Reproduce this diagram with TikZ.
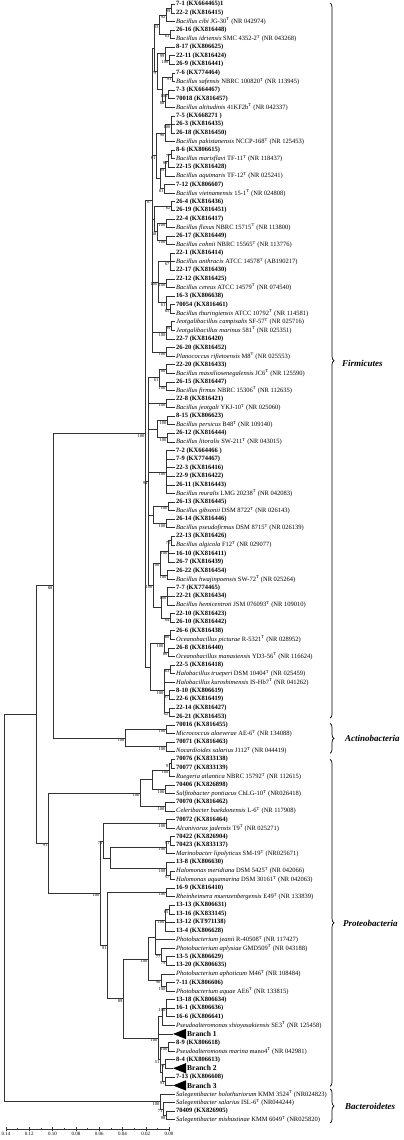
\documentclass[tikz,border=0pt]{standalone}
\usepackage{fontspec}
\setmainfont{Liberation Serif}
\usetikzlibrary{calc, decorations.pathreplacing}
\newcommand{\tT}{\textsuperscript{T}}
\tikzset{
  strain/.style={anchor=west, inner sep=1pt, font=\fontsize{6.5}{7}\selectfont\bfseries},
  species/.style={anchor=west, inner sep=1pt, font=\fontsize{6.5}{7}\selectfont},
  boot/.style={inner sep=0.4pt, font=\fontsize{4.5}{5}\selectfont},
  bs/.style={label={[boot]below left:#1}},
  branch/.style={line width=0.6pt, draw=black!80},
  collapsed/.style={fill=black},
  branchlab/.style={anchor=west, inner sep=1pt, font=\fontsize{7.5}{8}\selectfont\bfseries},
  clade/.style={decorate, decoration={brace, amplitude=4pt}, line width=0.7pt},
  phylum/.style={anchor=west, inner sep=0pt, font=\fontsize{9}{10}\selectfont\bfseries\itshape},
  scalelab/.style={inner sep=1pt, font=\fontsize{5}{6}\selectfont},
}
% internal node: name, x, first child, last child, children, bootstrap
\newcommand{\clade}[6]{%
  \path ($(#3)!.5!(#4)$) coordinate (#1m);
  \coordinate[bs={#6}] (#1) at (#1m -| #2,0);
  \foreach \kid in {#5} \draw[branch] (#1) |- (\kid);
}

\begin{document}
\begin{tikzpicture}[x=1pt, y=-8.58pt]
\useasboundingbox (0,0.5) rectangle (403,133.36);

% leaves
\node[strain] (l1) at (175,1) {7-1 (KX664465)1};
\node[strain] (l2) at (175,2) {22-2 (KX816415)};
\node[species] (l3) at (175,3) {\textit{Bacillus cibi} JG-30\tT{} (NR 042974)};
\node[strain] (l4) at (175,4) {26-16 (KX816448)};
\node[species] (l5) at (175,5) {\textit{Bacillus idriensis} SMC 4352-2\tT{} (NR 043268)};
\node[strain] (l6) at (175,6) {8-17 (KX806625)};
\node[strain] (l7) at (175,7) {22-11 (KX816424)};
\node[strain] (l8) at (175,8) {26-9 (KX816441)};
\node[strain] (l9) at (175,9) {7-6 (KX774464)};
\node[species] (l10) at (175,10) {\textit{Bacillus safensis} NBRC 100820\tT{} (NR 113945)};
\node[strain] (l11) at (175,11) {7-3 (KX664467)};
\node[strain] (l12) at (175,12) {70018 (KX816457)};
\node[species] (l13) at (175,13) {\textit{Bacillus altitudinis} 41KF2b\tT{} (NR 042337)};
\node[strain] (l14) at (175,14) {7-5 (KX668271 )};
\node[strain] (l15) at (175,15) {26-3 (KX816435)};
\node[strain] (l16) at (175,16) {26-18 (KX816450)};
\node[species] (l17) at (175,17) {\textit{Bacillus pakistanensis} NCCP-168\tT{} (NR 125453)};
\node[strain] (l18) at (175,18) {8-6 (KX806615)};
\node[species] (l19) at (175,19) {\textit{Bacillus marisflavi} TF-11\tT{} (NR 118437)};
\node[strain] (l20) at (175,20) {22-15 (KX816428)};
\node[species] (l21) at (175,21) {\textit{Bacillus aquimaris} TF-12\tT{} (NR 025241)};
\node[strain] (l22) at (175,22) {7-12 (KX806607)};
\node[species] (l23) at (175,23) {\textit{Bacillus vietnamensis} 15-1\tT{} (NR 024808)};
\node[strain] (l24) at (175,24) {26-4 (KX816436)};
\node[strain] (l25) at (175,25) {26-19 (KX816451)};
\node[strain] (l26) at (175,26) {22-4 (KX816417)};
\node[species] (l27) at (175,27) {\textit{Bacillus flexus} NBRC 15715\tT{} (NR 113800)};
\node[strain] (l28) at (175,28) {26-17 (KX816449)};
\node[species] (l29) at (175,29) {\textit{Bacillus cohnii} NBRC 15565\tT{} (NR 113776)};
\node[strain] (l30) at (175,30) {22-1 (KX816414)};
\node[species] (l31) at (175,31) {\textit{Bacillus anthracis} ATCC 14578\tT{} (AB190217)};
\node[strain] (l32) at (175,32) {22-17 (KX816430)};
\node[strain] (l33) at (175,33) {22-12 (KX816425)};
\node[species] (l34) at (175,34) {\textit{Bacillus cereus} ATCC 14579\tT{} (NR 074540)};
\node[strain] (l35) at (175,35) {16-3 (KX806638)};
\node[strain] (l36) at (175,36) {70054 (KX816461)};
\node[species] (l37) at (175,37) {\textit{Bacillus thuringiensis} ATCC 10792\tT{} (NR 114581)};
\node[species] (l38) at (175,38) {\textit{Jeotgalibacillus campisalis} SF-57\tT{} (NR 025716)};
\node[species] (l39) at (175,39) {\textit{Jeotgalibacillus marinus} 581\tT{} (NR 025351)};
\node[strain] (l40) at (175,40) {22-7 (KX816420)};
\node[strain] (l41) at (175,41) {26-20 (KX816452)};
\node[species] (l42) at (175,42) {\textit{Planococcus rifietoensis} M8\tT{} (NR 025553)};
\node[strain] (l43) at (175,43) {22-20 (KX816433)};
\node[species] (l44) at (175,44) {\textit{Bacillus massiliosenegalensis} JC6\tT{} (NR 125590)};
\node[strain] (l45) at (175,45) {26-15 (KX816447)};
\node[species] (l46) at (175,46) {\textit{Bacillus firmus} NBRC 15306\tT{} (NR 112635)};
\node[strain] (l47) at (175,47) {22-8 (KX816421)};
\node[species] (l48) at (175,48) {\textit{Bacillus jeotgali} YKJ-10\tT{} (NR 025060)};
\node[strain] (l49) at (175,49) {8-15 (KX806623)};
\node[species] (l50) at (175,50) {\textit{Bacillus persicus} B48\tT{} (NR 109140)};
\node[strain] (l51) at (175,51) {26-12 (KX816444)};
\node[species] (l52) at (175,52) {\textit{Bacillus litoralis} SW-211\tT{} (NR 043015)};
\node[strain] (l53) at (175,53) {7-2 (KX664466 )};
\node[strain] (l54) at (175,54) {7-9 (KX774467)};
\node[strain] (l55) at (175,55) {22-3 (KX816416)};
\node[strain] (l56) at (175,56) {22-9 (KX816422)};
\node[strain] (l57) at (175,57) {26-11 (KX816443)};
\node[species] (l58) at (175,58) {\textit{Bacillus muralis} LMG 20238\tT{} (NR 042083)};
\node[strain] (l59) at (175,59) {26-13 (KX816445)};
\node[species] (l60) at (175,60) {\textit{Bacillus gibsonii} DSM 8722\tT{} (NR 026143)};
\node[strain] (l61) at (175,61) {26-14 (KX816446)};
\node[species] (l62) at (175,62) {\textit{Bacillus pseudofirmus} DSM 8715\tT{} (NR 026139)};
\node[strain] (l63) at (175,63) {22-13 (KX816426)};
\node[species] (l64) at (175,64) {\textit{Bacillus algicola} F12\tT{} (NR 029077)};
\node[strain] (l65) at (175,65) {16-10 (KX816411)};
\node[strain] (l66) at (175,66) {26-7 (KX816439)};
\node[strain] (l67) at (175,67) {26-22 (KX816454)};
\node[species] (l68) at (175,68) {\textit{Bacillus hwajinpoensis} SW-72\tT{} (NR 025264)};
\node[strain] (l69) at (175,69) {7-7 (KX774465)};
\node[strain] (l70) at (175,70) {22-21 (KX816434)};
\node[species] (l71) at (175,71) {\textit{Bacillus hemicentroti} JSM 076093\tT{} (NR 109010)};
\node[strain] (l72) at (175,72) {22-10 (KX816423)};
\node[strain] (l73) at (175,73) {26-10 (KX816442)};
\node[strain] (l74) at (175,74) {26-6 (KX816438)};
\node[species] (l75) at (175,75) {\textit{Oceanobacillus picturae} R-5321\tT{} (NR 028952)};
\node[strain] (l76) at (175,76) {26-8 (KX816440)};
\node[species] (l77) at (175,77) {\textit{Oceanobacillus manasiensis} YD3-56\tT{} (NR 116624)};
\node[strain] (l78) at (175,78) {22-5 (KX816418)};
\node[species] (l79) at (175,79) {\textit{Halobacillus trueperi} DSM 10404\tT{} (NR 025459)};
\node[species] (l80) at (175,80) {\textit{Halobacillus kuroshimensis} IS-Hb7\tT{} (NR 041262)};
\node[strain] (l81) at (175,81) {8-10 (KX806619)};
\node[strain] (l82) at (175,82) {22-6 (KX816419)};
\node[strain] (l83) at (175,83) {22-14 (KX816427)};
\node[strain] (l84) at (175,84) {26-21 (KX816453)};
\node[strain] (l85) at (175,85) {70016 (KX816455)};
\node[species] (l86) at (175,86) {\textit{Micrococcus aloeverae} AE-6\tT{} (NR 134088)};
\node[strain] (l87) at (175,87) {70071 (KX816463)};
\node[species] (l88) at (175,88) {\textit{Nocardioides salarius} J112\tT{} (NR 044419)};
\node[strain] (l89) at (175,89) {70076 (KX833138)};
\node[strain] (l90) at (175,90) {70077 (KX833139)};
\node[species] (l91) at (175,91) {\textit{Ruegeria atlantica} NBRC 15792\tT{} (NR 112615)};
\node[strain] (l92) at (175,92) {70406 (KX826898)};
\node[species] (l93) at (175,93) {\textit{Sulfitobacter pontiacus} ChLG-10\tT{} (NR026418)};
\node[strain] (l94) at (175,94) {70070 (KX816462)};
\node[species] (l95) at (175,95) {\textit{Celeribacter baekdonensis} L-6\tT{} (NR 117908)};
\node[strain] (l96) at (175,96) {70072 (KX816464)};
\node[species] (l97) at (175,97) {\textit{Alcanivorax jadensis} T9\tT{} (NR 025271)};
\node[strain] (l98) at (175,98) {70422 (KX826904)};
\node[strain] (l99) at (175,99) {70423 (KX833137)};
\node[species] (l100) at (175,100) {\textit{Marinobacter lipolyticus} SM-19\tT{} (NR025671)};
\node[strain] (l101) at (175,101) {13-8 (KX806630)};
\node[species] (l102) at (175,102) {\textit{Halomonas meridiana} DSM 5425\tT{} (NR 042066)};
\node[species] (l103) at (175,103) {\textit{Halomonas aquamarina} DSM 30161\tT{} (NR 042063)};
\node[strain] (l104) at (175,104) {16-9 (KX816410)};
\node[species] (l105) at (175,105) {\textit{Rheinheimera muenzenbergensis} E49\tT{} (NR 133839)};
\node[strain] (l106) at (175,106) {13-13 (KX806631)};
\node[strain] (l107) at (175,107) {13-16 (KX833145)};
\node[strain] (l108) at (175,108) {13-12 (KT971138)};
\node[strain] (l109) at (175,109) {13-4 (KX806628)};
\node[species] (l110) at (175,110) {\textit{Photobacterium jeanii} R-40508\tT{} (NR 117427)};
\node[species] (l111) at (175,111) {\textit{Photobacterium aplysiae} GMD509\tT{} (NR 043188)};
\node[strain] (l112) at (175,112) {13-5 (KX806629)};
\node[strain] (l113) at (175,113) {13-20 (KX806635)};
\node[species] (l114) at (175,114) {\textit{Photobacterium aphoticum} M46\tT{} (NR 108484)};
\node[strain] (l115) at (175,115) {7-11 (KX806606)};
\node[species] (l116) at (175,116) {\textit{Photobacterium aquae} AE6\tT{} (NR 133815)};
\node[strain] (l117) at (175,117) {13-18 (KX806634)};
\node[strain] (l118) at (175,118) {16-1 (KX806636)};
\node[strain] (l119) at (175,119) {16-6 (KX806641)};
\node[species] (l120) at (175,120) {\textit{Pseudoalteromonas shioyasakiensis} SE3\tT{} (NR 125458)};
\coordinate (l121) at (173,121);
\node[strain] (l122) at (175,122) {8-9 (KX806618)};
\node[species] (l123) at (175,123) {\textit{Pseudoalteromonas marina} mano4\tT{} (NR 042981)};
\node[strain] (l124) at (175,124) {8-4 (KX806613)};
\coordinate (l125) at (173,125);
\node[strain] (l126) at (175,126) {7-13 (KX806608)};
\coordinate (l127) at (173,127);
\node[species] (l128) at (175,128) {\textit{Salegentibacter holothuriorum} KMM 3524\tT{} (NR024823)};
\node[species] (l129) at (175,129) {\textit{Salegentibacter salarius} ISL-6\tT{} (NR044244)};
\node[strain] (l130) at (175,130) {70409 (KX826905)};
\node[species] (l131) at (175,131) {\textit{Salegentibacter mishustinae} KMM 6049\tT{} (NR025820)};

% collapsed branches
\foreach \b/\r in {1/121, 2/125, 3/127} {
  \fill[collapsed] (l\r) -- ++(13,-0.6) -- ++(0,1.2) -- cycle;
  \node[branchlab] (bl\b) at (186,\r) {Branch \b};
}

% Firmicutes
\clade{n1}{171}{l1}{l2}{l1,l2}{99}
\clade{n2}{166}{n1}{l3}{n1,l3}{92}
\clade{n3}{170}{l4}{l5}{l4,l5}{63}
\clade{n4}{159}{n2}{n3}{n2,n3}{83}
\clade{n5}{169}{l7}{l8}{l7,l8}{100}
\clade{n6}{165}{l6}{n5}{l6,n5}{99}
\clade{n7}{172}{l9}{l10}{l9,l10}{91}
\clade{n8}{168}{l11}{l12}{l11,l12}{100}
\clade{n9}{165}{n8}{l13}{n8,l13}{88}
\clade{n10}{162}{n7}{n9}{n7,n9}{}
\clade{n11}{157}{n6}{n10}{n6,n10}{79}
\clade{n12}{154}{n4}{n11}{n4,n11}{}
\clade{n13}{171}{l14}{l16}{l14,l15,l16}{100}
\clade{n14}{165}{n13}{l17}{n13,l17}{90}
\clade{n15}{171}{l18}{l19}{l18,l19}{77}
\clade{n16}{168}{n15}{l20}{n15,l20}{98}
\clade{n17}{165}{n16}{l21}{n16,l21}{99}
\clade{n18}{164}{l22}{l23}{l22,l23}{81}
\clade{n19}{160}{n17}{n18}{n17,n18}{}
\clade{n20}{156}{n14}{n19}{n14,n19}{81}
\clade{n21}{171}{l24}{l25}{l24,l25}{62}
\clade{n22}{166}{l26}{l27}{l26,l27}{100}
\clade{n23}{166}{l28}{l29}{l28,l29}{100}
\clade{n24}{157}{n22}{n23}{n22,n23}{68}
\clade{n25}{154}{n21}{n24}{n21,n24}{}
\clade{n27}{170}{l30}{l32}{l30,l31,l32}{67}
\clade{n28}{166}{l33}{l34}{l33,l34}{100}
\clade{n29}{170}{l36}{l37}{l36,l37}{65}
\clade{n30}{166}{l35}{n29}{l35,n29}{61}
\clade{n31}{158}{n27}{n30}{n27,n28,n30}{100}
\clade{n33}{171}{l38}{l39}{l38,l39}{99}
\clade{n34}{166}{n33}{l40}{n33,l40}{100}
\clade{n35}{166}{l41}{l42}{l41,l42}{100}
\clade{fup}{152}{n12}{n35}{n12,n20,n25,n31,n34,n35}{67}
\clade{n38}{166}{l43}{l44}{l43,l44}{100}
\clade{n39}{166}{l45}{l46}{l45,l46}{100}
\clade{n40}{159}{n38}{n39}{n38,n39}{61}
\clade{n41}{166}{l47}{l48}{l47,l48}{100}
\clade{n42}{167}{l49}{l50}{l49,l50}{100}
\clade{n43}{167}{l51}{l52}{l51,l52}{100}
\clade{n44}{157}{n42}{n43}{n42,n43}{}
\clade{n46}{166}{l53}{l58}{l53,l54,l55,l56,l57,l58}{100}
\clade{n47}{168}{l59}{l60}{l59,l60}{100}
\clade{n48}{166}{l61}{l62}{l61,l62}{100}
\clade{n49}{153}{n47}{n48}{n47,n48}{}
\clade{n50}{171}{l63}{l64}{l63,l64}{72}
\clade{n51}{168}{n50}{l66}{n50,l65,l66}{100}
\clade{n52}{167}{l67}{l68}{l67,l68}{100}
\clade{n53}{160}{n51}{n52}{n51,n52}{100}
\clade{n54}{167}{l69}{l71}{l69,l70,l71}{100}
\clade{n55}{170}{l72}{l73}{l72,l73}{64}
\clade{n56}{161}{n54}{n55}{n54,n55}{}
\clade{n57}{153}{n53}{n56}{n53,n56}{100}
\clade{flow}{148}{n40}{n57}{n40,n41,n44,n46,n49,n57}{94}
\clade{n58}{170}{l74}{l75}{l74,l75}{80}
\clade{n59}{168}{l76}{l77}{l76,l77}{80}
\clade{n60}{164}{n58}{n59}{n58,n59}{100}
\clade{n61}{170}{l78}{l79}{l78,l79}{63}
\clade{n62}{169}{l81}{l82}{l81,l82}{97}
\clade{n63}{169}{l83}{l84}{l83,l84}{62}
\clade{n64}{164}{n61}{n63}{n61,l80,n62,n63}{100}
\clade{fbot}{150}{n60}{n64}{n60,n64}{}
\clade{firm}{145}{fup}{fbot}{fup,flow,fbot}{100}

% Actinobacteria
\clade{n72}{166}{l85}{l86}{l85,l86}{100}
\clade{n73}{166}{l87}{l88}{l87,l88}{100}
\clade{acti}{125}{n72}{n73}{n72,n73}{100}
\clade{fa}{53}{firm}{acti}{firm,acti}{88}

% Proteobacteria
\clade{p1}{171}{l89}{l90}{l89,l90}{91}
\clade{p2}{169}{p1}{l91}{p1,l91}{100}
\clade{p3}{165}{l92}{l93}{l92,l93}{100}
\clade{p4}{152}{p2}{p3}{p2,p3}{}
\clade{p5}{165}{l94}{l95}{l94,l95}{100}
\clade{pa}{140}{p4}{p5}{p4,p5}{100}
\clade{p7}{166}{l96}{l97}{l96,l97}{100}
\clade{p8}{170}{l98}{l99}{l98,l99}{91}
\clade{p9}{166}{p8}{l100}{p8,l100}{100}
\clade{p11}{170}{l102}{l103}{l102,l103}{57}
\clade{p12}{166}{l101}{p11}{l101,p11}{100}
\clade{pr2}{110}{p9}{p12}{p9,p12}{}
\clade{pr}{103}{p7}{pr2}{p7,pr2}{72}
\clade{p13}{166}{l104}{l105}{l104,l105}{100}
\clade{p15}{169}{l106}{l107}{l106,l107}{65}
\clade{p16}{165}{p15}{l109}{p15,l108,l109}{100}
\clade{p17}{166}{l112}{l113}{l112,l113}{79}
\clade{p18}{161}{l111}{p17}{l111,p17}{77}
\clade{pu1}{155}{p16}{p18}{p16,l110,p18}{}
\clade{p21}{166}{l115}{l116}{l115,l116}{100}
\clade{p22}{161}{l114}{p21}{l114,p21}{90}
\clade{pu}{148}{pu1}{p22}{pu1,p22}{100}
\clade{p24}{166}{l117}{l119}{l117,l118,l119}{100}
\clade{p25}{162}{p24}{l120}{p24,l120}{}
\clade{p26}{168}{l122}{l123}{l122,l123}{100}
\clade{p27}{165}{l124}{l125}{l124,l125}{75}
\clade{p28}{165}{l126}{l127}{l126,l127}{91}
\clade{p29}{162}{p27}{p28}{p27,p28}{}
\clade{p30}{160}{p26}{p29}{p26,p29}{51}
\clade{pv}{158}{p25}{p30}{p25,l121,p30}{100}
\clade{pt}{123}{pu}{pv}{pu,pv}{89}
\clade{ps}{107}{p13}{pt}{p13,pt}{91}
\clade{pq}{100}{pr}{ps}{pr,ps}{100}
\clade{prot}{48}{pa}{pq}{pa,pq}{91}
\clade{fap}{36}{fa}{prot}{fa,prot}{}

% Bacteroidetes and root
\clade{q1}{166}{l130}{l131}{l130,l131}{98}
\clade{q2}{163}{l129}{q1}{l129,q1}{71}
\clade{q3}{160}{l128}{q2}{l128,q2}{100}
\clade{root}{4}{fap}{q3}{fap,q3}{}

% phyla
\coordinate (firmtop) at (330,0.85);
\coordinate (firmbot) at (330,84.2);
\coordinate (actitop) at (330,84.8);
\coordinate (actibot) at (330,88.3);
\coordinate (prottop) at (330,89.0);
\coordinate (protbot) at (330,127.1);
\coordinate (bacttop) at (330,127.4);
\coordinate (bactbot) at (330,131.4);
\draw[clade] (firmtop) -- (firmbot);
\draw[clade] (actitop) -- (actibot);
\draw[clade] (prottop) -- (protbot);
\draw[clade] (bacttop) -- (bactbot);
\node[phylum] (firmlab) at (342,42.8) {Firmicutes};
\node[phylum] (actilab) at (345,86.5) {Actinobacteria};
\node[phylum] (protlab) at (343,108.1) {Proteobacteria};
\node[phylum] (bactlab) at (345,129.4) {Bacteroidetes};

% scale
\coordinate (sclft) at (6,132.08);
\coordinate (scrgt) at (169,132.08);
\draw[branch] (sclft) -- (scrgt);
\foreach \v [count=\k from 0] in {0.14,0.12,0.10,0.08,0.06,0.04,0.02,0.00} {
  \draw[branch] ({6+23.3*\k},131.85) -- ({6+23.3*\k},132.3) node[below, scalelab] {\v};
}
\foreach \k in {0,...,6}
  \draw[branch] ({17.6+23.3*\k},131.95) -- ({17.6+23.3*\k},132.08);
\end{tikzpicture}
\end{document}
